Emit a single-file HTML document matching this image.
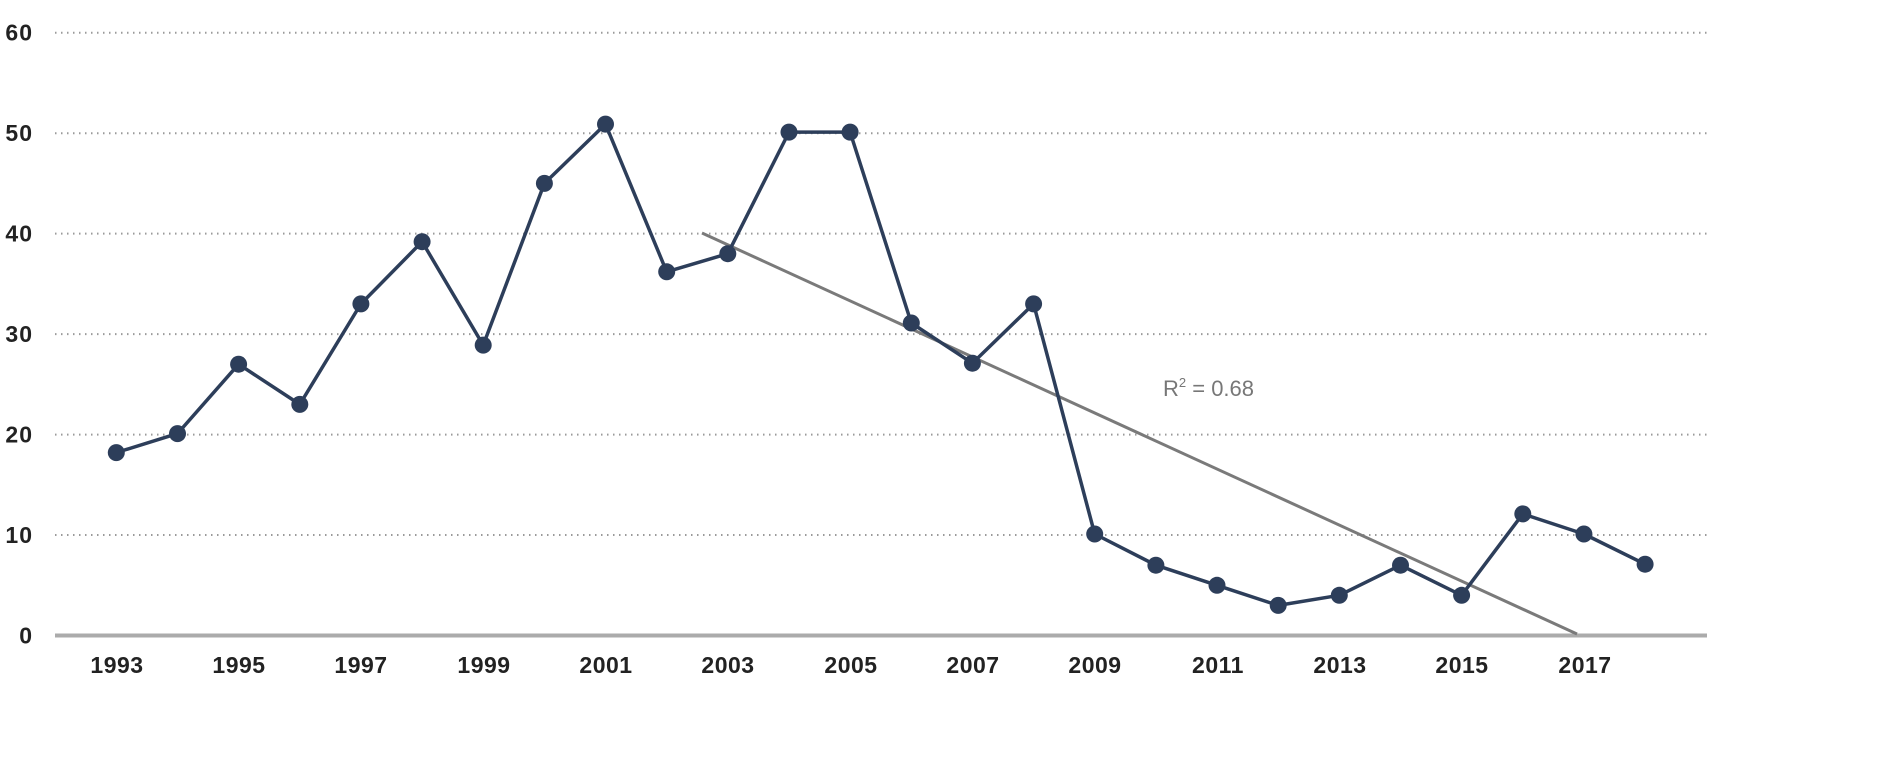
<!DOCTYPE html>
<html><head><meta charset="utf-8"><style>
html,body{margin:0;padding:0;background:#fff;}
svg{display:block;}
text{font-family:"Liberation Sans",sans-serif;}
</style></head><body>
<svg width="1889" height="772" viewBox="0 0 1889 772" xmlns="http://www.w3.org/2000/svg">
<g stroke="#9a9a9a" stroke-width="2" stroke-dasharray="1.5 4.5" fill="none">
<line x1="55" y1="32.7" x2="1707" y2="32.7"/>
<line x1="55" y1="133.2" x2="1707" y2="133.2"/>
<line x1="55" y1="233.6" x2="1707" y2="233.6"/>
<line x1="55" y1="334.1" x2="1707" y2="334.1"/>
<line x1="55" y1="434.6" x2="1707" y2="434.6"/>
<line x1="55" y1="535" x2="1707" y2="535"/>
</g>
<line x1="55" y1="635.5" x2="1707" y2="635.5" stroke="#ababab" stroke-width="4"/>
<g fill="#222" font-size="23" font-weight="bold" text-anchor="end" letter-spacing="1">
<text x="33" y="40.5">60</text><text x="33" y="141">50</text><text x="33" y="241.5">40</text>
<text x="33" y="342">30</text><text x="33" y="442.5">20</text><text x="33" y="543">10</text>
<text x="33" y="643.5">0</text>
</g>
<g fill="#222" font-size="23" font-weight="bold" text-anchor="middle" letter-spacing="0.5">
<text x="117" y="673">1993</text><text x="239" y="673">1995</text><text x="361" y="673">1997</text>
<text x="484" y="673">1999</text><text x="606" y="673">2001</text><text x="728" y="673">2003</text>
<text x="851" y="673">2005</text><text x="973" y="673">2007</text><text x="1095" y="673">2009</text>
<text x="1218" y="673">2011</text><text x="1340" y="673">2013</text><text x="1462" y="673">2015</text>
<text x="1585" y="673">2017</text>
</g>
<line x1="702" y1="233" x2="1577" y2="634" stroke="#7a7a7a" stroke-width="3"/>
<text x="1163" y="396" font-size="22" fill="#777">R<tspan font-size="13" dy="-9">2</tspan><tspan dy="9"> = 0.68</tspan></text>
<polyline fill="none" stroke="#2d3e5a" stroke-width="3.5" stroke-linejoin="round" points="116.3,452.6 177.5,433.6 238.6,364.2 299.8,404.4 360.9,303.9 422.1,241.7 483.2,345.1 544.4,183.4 605.5,124.1 666.7,271.8 727.8,253.7 789.0,132.1 850.1,132.1 911.3,323.0 972.4,363.2 1033.6,303.9 1094.7,534.0 1155.9,565.2 1217.0,585.3 1278.2,605.4 1339.3,595.3 1400.5,565.2 1461.6,595.3 1522.8,513.9 1583.9,534.0 1645.1,564.2"/>
<g fill="#2d3e5a">
<circle cx="116.3" cy="452.6" r="8.5"/><circle cx="177.5" cy="433.6" r="8.5"/><circle cx="238.6" cy="364.2" r="8.5"/>
<circle cx="299.8" cy="404.4" r="8.5"/><circle cx="360.9" cy="303.9" r="8.5"/><circle cx="422.1" cy="241.7" r="8.5"/>
<circle cx="483.2" cy="345.1" r="8.5"/><circle cx="544.4" cy="183.4" r="8.5"/><circle cx="605.5" cy="124.1" r="8.5"/>
<circle cx="666.7" cy="271.8" r="8.5"/><circle cx="727.8" cy="253.7" r="8.5"/><circle cx="789.0" cy="132.1" r="8.5"/>
<circle cx="850.1" cy="132.1" r="8.5"/><circle cx="911.3" cy="323.0" r="8.5"/><circle cx="972.4" cy="363.2" r="8.5"/>
<circle cx="1033.6" cy="303.9" r="8.5"/><circle cx="1094.7" cy="534.0" r="8.5"/><circle cx="1155.9" cy="565.2" r="8.5"/>
<circle cx="1217.0" cy="585.3" r="8.5"/><circle cx="1278.2" cy="605.4" r="8.5"/><circle cx="1339.3" cy="595.3" r="8.5"/>
<circle cx="1400.5" cy="565.2" r="8.5"/><circle cx="1461.6" cy="595.3" r="8.5"/><circle cx="1522.8" cy="513.9" r="8.5"/>
<circle cx="1583.9" cy="534.0" r="8.5"/><circle cx="1645.1" cy="564.2" r="8.5"/>
</g>
</svg>
</body></html>
